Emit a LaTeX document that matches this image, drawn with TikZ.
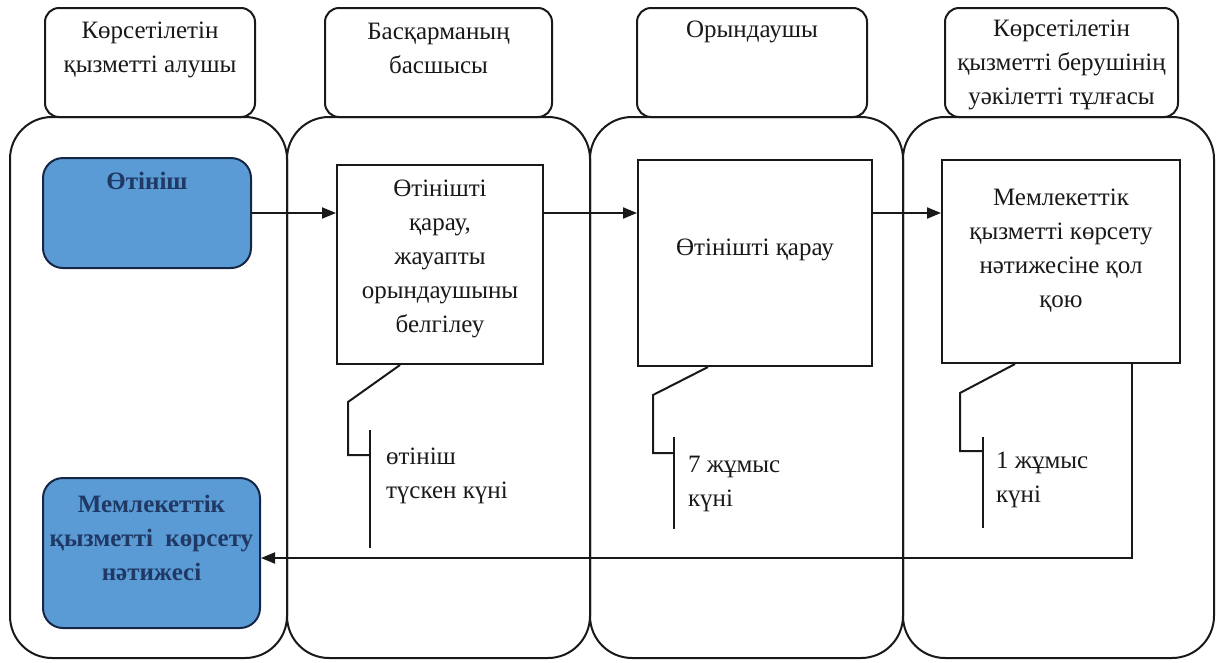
\documentclass[tikz,border=0pt]{standalone}
\usepackage{fontspec}
\setmainfont{Liberation Serif}
\usetikzlibrary{arrows.meta}
\definecolor{stepblue}{RGB}{91,155,213}
\definecolor{navy}{RGB}{31,56,100}
\definecolor{ink}{RGB}{25,25,25}

\begin{document}
\begin{tikzpicture}[x=1pt, y=-1pt, line width=2pt, draw=ink, text=ink,
    lane/.style={draw, rounded corners=42pt},
    head/.style={draw, fill=white, rounded corners=14pt, inner sep=0pt},
    task/.style={draw, fill=white, inner sep=0pt},
    term/.style={draw=navy!70!black, fill=stepblue, rounded corners=20pt, inner sep=0pt},
    txt/.style={inner sep=0pt, align=center, font=\fontsize{25}{34}\selectfont},
    btxt/.style={txt, text=navy, font=\fontsize{25}{34}\selectfont\bfseries},
    note/.style={inner sep=0pt, align=left, anchor=west, font=\fontsize{25}{34}\selectfont},
    flow/.style={-{Triangle[length=14pt,width=11pt]}}]
\useasboundingbox (0,0) rectangle (1219,662);
    % Lanes
    \draw[lane] (10,117) rectangle (287,658);
    \draw[lane] (287,117) rectangle (590,658);
    \draw[lane] (590,117) rectangle (903,658);
    \draw[lane] (903,117) rectangle (1214,658);
    % Headers
    \node[head, minimum width=210pt, minimum height=109pt] (h1) at (150,62.5) {};
    \node[txt] (h1t) at (150,49.5) {Көрсетілетін\\қызметті алушы};
    \node[head, minimum width=227pt, minimum height=109pt] (h2) at (438.5,62.5) {};
    \node[txt] (h2t) at (438.5,48.5) {Басқарманың\\басшысы};
    \node[head, minimum width=230pt, minimum height=109pt] (h3) at (752,62.5) {};
    \node[txt] (h3t) at (752,32) {Орындаушы};
    \node[head, minimum width=233pt, minimum height=109pt] (h4) at (1061.5,62.5) {};
    \node[txt] (h4t) at (1061.5,64.5) {Көрсетілетін\\қызметті берушінің\\уәкілетті тұлғасы};
    % Steps
    \node[term, minimum width=208pt, minimum height=110pt] (app) at (147,213) {};
    \node[btxt] (appt) at (147,181) {Өтініш};
    \node[task, minimum width=206pt, minimum height=199pt] (rev) at (440,264.5) {};
    \node[txt] (revt) at (440,259) {Өтінішті\\қарау,\\жауапты\\орындаушыны\\белгілеу};
    \node[task, minimum width=234pt, minimum height=206pt] (exe) at (755,263) {};
    \node[txt] (exet) at (755,250) {Өтінішті қарау};
    \node[task, minimum width=238pt, minimum height=203pt] (sig) at (1061,261.5) {};
    \node[txt] (sigt) at (1061,251) {Мемлекеттік\\қызметті көрсету\\нәтижесіне қол\\қою};
    \node[term, minimum width=217pt, minimum height=150pt] (res) at (151.5,553) {};
    \node[btxt] (rest) at (151.5,537.5) {Мемлекеттік\\қызметті\ \ көрсету\\нәтижесі};
    % Flow
    \draw[flow] (app.east) -- (app.east -| rev.west);
    \draw[flow] (rev.east |- app.east) -- (app.east -| exe.west);
    \draw[flow] (exe.east |- app.east) -- (app.east -| sig.west);
    \coordinate (ret) at (1132,558);
    \draw[flow] (sig.south -| ret) -- (ret) -- (res.east |- ret);
    % Callouts
    \node[note] (n1) at (385,476) {өтініш\\түскен күні};
    \coordinate (c1) at (400,0);
    \draw (rev.south -| c1) -- (348,402) -- (348,455) -- (370,455);
    \draw (370,430) -- (370,548);
    \node[note] (n2) at (687,483.5) {7 жұмыс\\күні};
    \coordinate (c2) at (708,0);
    \draw (exe.south -| c2) -- (653,395) -- (653,453) -- (674,453);
    \draw (674,437) -- (674,529);
    \node[note] (n3) at (995,480) {1 жұмыс\\күні};
    \coordinate (c3) at (1015,0);
    \draw (sig.south -| c3) -- (960,393) -- (960,451) -- (983,451);
    \draw (983,437) -- (983,528);
\end{tikzpicture}
\end{document}
